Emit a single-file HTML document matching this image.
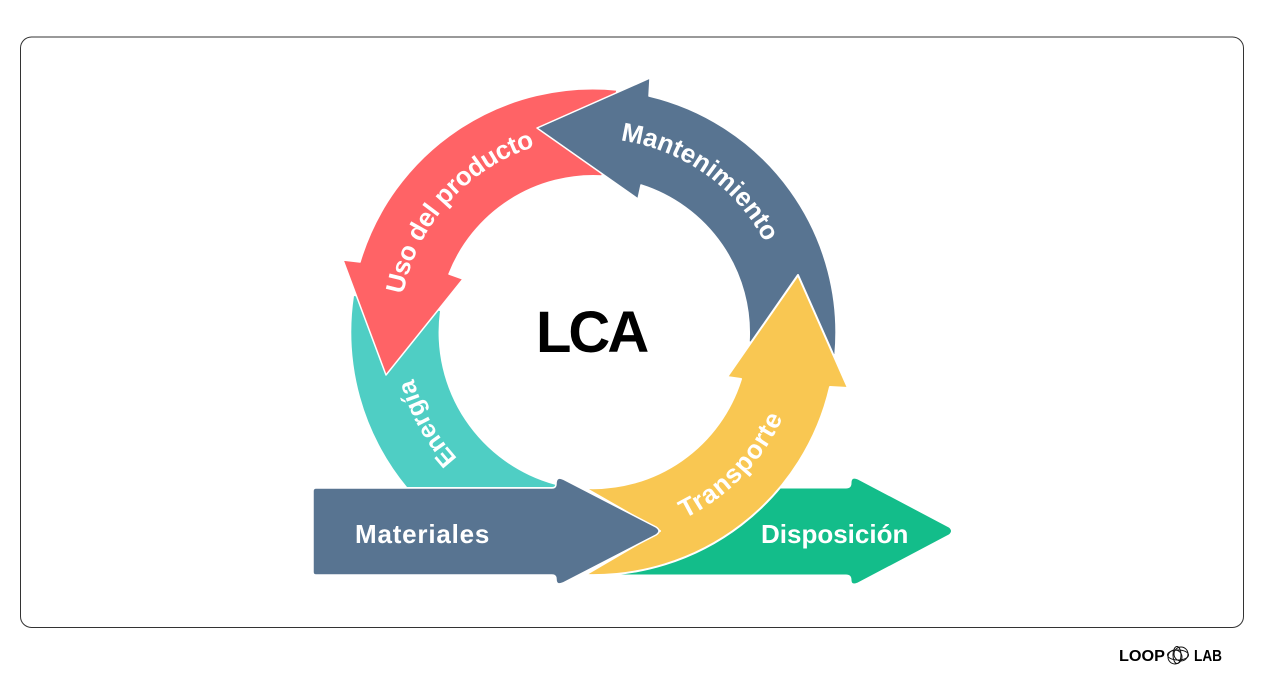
<!DOCTYPE html>
<html lang="es">
<head>
<meta charset="utf-8">
<title>LCA</title>
<style>
html,body{margin:0;padding:0;background:#fff;width:1264px;height:699px;overflow:hidden}
svg{display:block}
text{font-family:"Liberation Sans",sans-serif;font-weight:700}
.l{fill:#fff;font-size:26px}
</style>
</head>
<body>
<svg width="1264" height="699" viewBox="0 0 1264 699" xmlns="http://www.w3.org/2000/svg">
<rect x="20.5" y="37" width="1223" height="590.5" rx="11" fill="#fff" stroke="#333" stroke-width="1"/>

<defs>
<path id="pU" d="M403.1 294.5 A194 194 0 0 1 559.8 140.5"/>
<path id="pM" d="M620.4 140.4 A193 193 0 0 1 783.5 298"/>
<path id="pE" d="M457.5 458.4 A186 186 0 0 1 407.5 331.5"/>
<path id="pT" d="M684.7 518.5 A208 208 0 0 0 798.3 367.5"/>
</defs>

<!-- Disposición -->
<path d="M620 488 H846 Q851 488 851 483 Q851 476 858 479 L949 527 Q954 531 949 535 L858 583 Q851 586 851 580 Q851 575 846 575 H620 Z" fill="#13BD8A" stroke="#fff" stroke-width="1"/>

<!-- Energía -->
<path d="M354 296 A243 243 0 0 0 407 487 H552 Q555 487 556 485 A158 158 0 0 1 440 311 Z" fill="#4FCEC4"/>

<!-- Uso del producto -->
<path d="M617 90 A243 243 0 0 0 360 262 L343 260 L386 375 L463 279 L449 274 A155 155 0 0 1 602 176 Z" fill="#FF6366" stroke="#fff" stroke-width="1.5" stroke-linejoin="round"/>

<!-- Mantenimiento -->
<path d="M649 96 A243 243 0 0 1 835 355 L749 342 A155 155 0 0 0 641 185 L638 199 L537 128 L650 78 Z" fill="#587491" stroke="#fff" stroke-width="1.5" stroke-linejoin="round"/>

<!-- Transporte -->
<path d="M585 488 A155 155 0 0 0 741 379 L727 377 L798 275 L848 388 L830 387 A243 243 0 0 1 585 575 L660 531 Z" fill="#F9C752" stroke="#fff" stroke-width="2" stroke-linejoin="round"/>

<!-- Materiales -->
<path d="M316 488 H552 Q556 488 556 484 Q556 476 563 479 L656 527 Q662 531 656 535 L563 583 Q556 586 556 579 Q556 575 552 575 H316 Q313 575 313 572 V491 Q313 488 316 488 Z" fill="#587491" stroke="#fff" stroke-width="1.5"/>

<text class="l" letter-spacing="-0.4"><textPath href="#pU">Uso del producto</textPath></text>
<text class="l" letter-spacing="0"><textPath href="#pM">Mantenimiento</textPath></text>
<text class="l" style="font-size:25px"><textPath href="#pE">Energía</textPath></text>
<text class="l" letter-spacing="1"><textPath href="#pT">Transporte</textPath></text>

<text x="355" y="543" fill="#fff" style="font-size:26px" letter-spacing="0.8">Materiales</text>
<text x="761" y="543" fill="#fff" style="font-size:26px">Disposición</text>

<text x="536" y="352" fill="#000" style="font-size:58px" letter-spacing="-3">LCA</text>

<!-- logo -->
<text x="1119" y="661" fill="#000" style="font-size:16px" textLength="46" lengthAdjust="spacingAndGlyphs">LOOP</text>
<text x="1194" y="661" fill="#000" style="font-size:16px" textLength="28" lengthAdjust="spacingAndGlyphs">LAB</text>
<g fill="none" stroke="#111" stroke-width="1">
<circle cx="1175" cy="657" r="7"/>
<circle cx="1181" cy="654" r="7"/>
<ellipse cx="1178" cy="655" rx="10.5" ry="5"/>
<ellipse cx="1177" cy="655" rx="4" ry="8.5"/>
</g>
</svg>
</body>
</html>
